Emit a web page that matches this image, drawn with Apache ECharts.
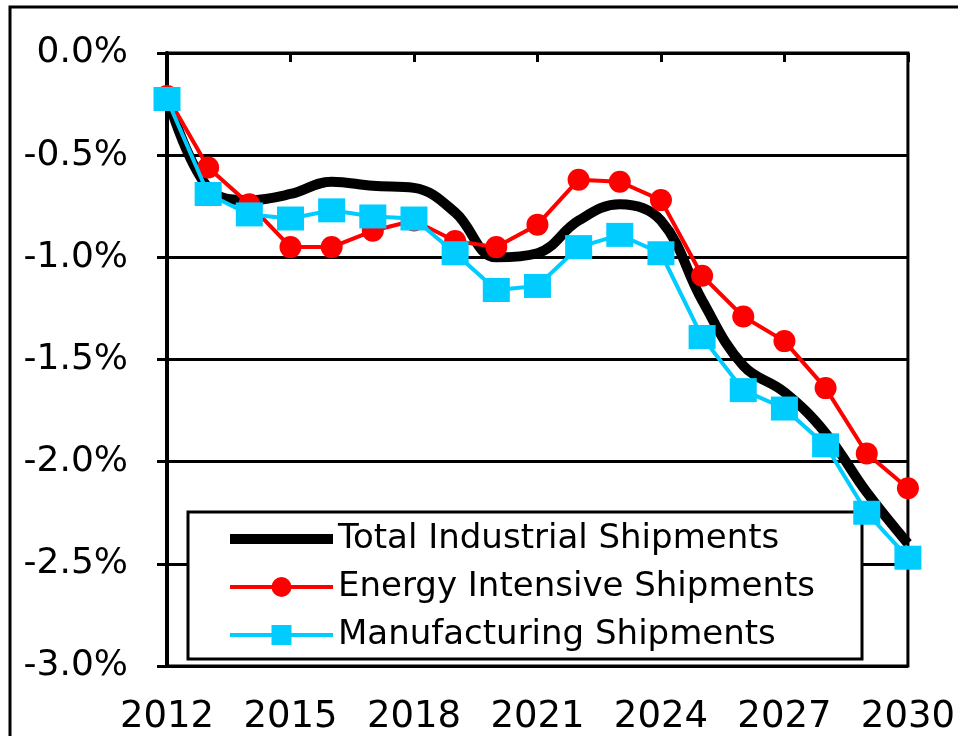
<!DOCTYPE html>
<html>
<head>
<meta charset="utf-8">
<script src="https://cdn.jsdelivr.net/npm/echarts@6/dist/echarts.min.js"></script>
<style>
  html, body { margin: 0; padding: 0; background: #fff; }
  #chart { width: 958px; height: 736px; }
</style>
</head>
<body>
<div id="chart"></div>
<script>
// years on the x axis
var years = ["2012", "2013", "2014", "2015", "2016", "2017", "2018", "2019", "2020", "2021",
  "2022", "2023", "2024", "2025", "2026", "2027", "2028", "2029", "2030"];
// annual growth, percent
var totalShipments = [-0.21, -0.66, -0.72, -0.69, -0.63, -0.65, -0.66, -0.78, -1.00, -0.98,
  -0.82, -0.74, -0.82, -1.21, -1.53, -1.66, -1.86, -2.15, -2.40];
var energyShipments = [-0.21, -0.56, -0.74, -0.95, -0.95, -0.87, -0.82, -0.92, -0.95, -0.84,
  -0.62, -0.63, -0.72, -1.09, -1.29, -1.41, -1.64, -1.96, -2.13];
var manufShipments = [-0.225, -0.69, -0.79, -0.81, -0.77, -0.80, -0.81, -0.98, -1.16, -1.14,
  -0.95, -0.89, -0.98, -1.39, -1.65, -1.74, -1.92, -2.25, -2.47];

var fontFam = "DejaVu Sans";

var myChart = echarts.init(document.getElementById("chart"));
myChart.setOption({
  animation: false,
  backgroundColor: "#fff",
  grid: {
    left: 167, right: 45, top: 53, bottom: 69,
    show: true, borderColor: "#000", borderWidth: 3
  },
  graphic: [
    // outer frame
    {
      type: "rect", z: 0,
      shape: { x: 10, y: 7, width: 1000, height: 1000 },
      style: { fill: null, stroke: "#000", lineWidth: 3 }
    },
    // legend box
    {
      type: "rect", z: 1,
      shape: { x: 188, y: 512, width: 674, height: 147 },
      style: { fill: "#fff", stroke: "#000", lineWidth: 3 }
    }
  ],
  legend: {
    orient: "vertical",
    left: 220,
    top: 517,
    itemWidth: 103,
    itemHeight: 25,
    itemGap: 14,
    textStyle: { fontFamily: fontFam, fontSize: 34, color: "#000" },
    data: [
      { name: "Total Industrial Shipments", itemStyle: { opacity: 0 }, lineStyle: { width: 10 } },
      { name: "Energy Intensive Shipments", lineStyle: { width: 4 } },
      { name: "Manufacturing Shipments", lineStyle: { width: 4 } }
    ]
  },
  xAxis: {
    type: "category",
    data: years,
    boundaryGap: false,
    axisLine: { lineStyle: { color: "#000", width: 3 } },
    axisTick: { interval: 2, length: 9, lineStyle: { color: "#000", width: 3 } },
    axisLabel: {
      interval: 2, margin: 33,
      fontFamily: fontFam, fontSize: 37, color: "#000"
    },
    splitLine: { show: false }
  },
  yAxis: {
    type: "value",
    min: -3, max: 0, interval: 0.5,
    axisLine: { show: true, lineStyle: { color: "#000", width: 4 } },
    axisTick: { show: true, length: 10, lineStyle: { color: "#000", width: 3 } },
    axisLabel: {
      margin: 39,
      fontFamily: fontFam, fontSize: 36, color: "#000",
      formatter: function (v) { return v.toFixed(1) + "%"; }
    },
    splitLine: { lineStyle: { color: "#000", width: 3 } }
  },
  series: [
    {
      name: "Total Industrial Shipments",
      type: "line",
      data: totalShipments,
      smooth: 0.4,
      symbol: "none",
      color: "#000",
      lineStyle: { color: "#000", width: 10 },
      z: 2
    },
    {
      name: "Energy Intensive Shipments",
      type: "line",
      data: energyShipments,
      symbol: "circle",
      symbolSize: 22,
      color: "#ff0000",
      itemStyle: { color: "#ff0000" },
      lineStyle: { color: "#ff0000", width: 4 },
      z: 3
    },
    {
      name: "Manufacturing Shipments",
      type: "line",
      data: manufShipments,
      symbol: "rect",
      symbolSize: [27, 24],
      color: "#00ccff",
      itemStyle: { color: "#00ccff" },
      lineStyle: { color: "#00ccff", width: 4 },
      z: 4
    }
  ]
});
</script>
</body>
</html>
